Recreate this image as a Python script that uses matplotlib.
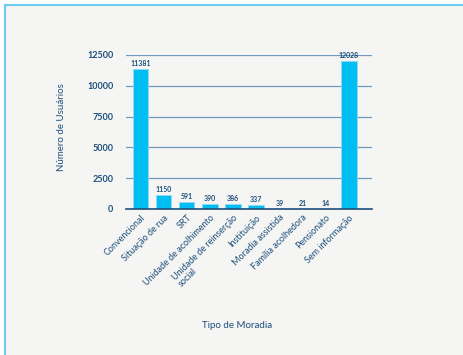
import matplotlib.pyplot as plt
from matplotlib.patches import Rectangle

categorias = ['Convencional', 'Situação de rua', 'SRT', 'Unidade de acolhimento',
              'Unidade de reinserção\nsocial', 'Instituição', 'Moradia assistida',
              'Família acolhedora', 'Pensionato', 'Sem informação']
usuarios = [11381, 1150, 591, 390, 386, 337, 39, 21, 14, 12028]
yticks = [0, 2500, 5000, 7500, 10000, 12500]

azul_escuro = '#1d4f7c'
ciano = '#00bdf2'
fundo = '#f5f5f3'

plt.rcParams['font.family'] = ['Lato', 'DejaVu Sans']

fig = plt.figure(figsize=(4.63, 3.55), dpi=100)
fig.patch.set_facecolor('white')

# moldura do painel
fig.patches.append(Rectangle((5 / 463, -0.1), 1.2, 1 - 5 / 355 + 0.1,
                             transform=fig.transFigure, facecolor=fundo,
                             edgecolor='#6ccdf0', linewidth=1.5, zorder=-10))

ax = fig.add_axes([126 / 463, 1 - 209 / 355, (372 - 126) / 463, (209 - 55) / 355])
ax.set_facecolor(fundo)
ax.patch.set_alpha(0)

x = range(len(categorias))
barras = ax.bar(x, usuarios, width=0.67, color=ciano, edgecolor='#8fdcf6',
                linewidth=0.6, zorder=3)
for xi, v in zip(x, usuarios):
    ax.text(xi, v + 150, str(v), ha='center', va='bottom', fontsize=5,
            fontweight='bold', color=azul_escuro, zorder=4)

ax.set_xlim(-0.62, 10.0)
ax.set_ylim(0, 12500)
ax.set_yticks(yticks)
ax.set_yticklabels([str(t) for t in yticks], fontsize=6.5, fontweight='bold',
                   color=azul_escuro)
ax.yaxis.grid(True, color='#6f99bd', linewidth=0.9, zorder=0)
ax.tick_params(axis='y', length=0, pad=9)
ax.tick_params(axis='x', length=0, pad=3)
ax.set_xticks(list(x))
ax.set_xticklabels(categorias, rotation=45, ha='right', rotation_mode='anchor',
                   multialignment='left', fontsize=6.5, color=azul_escuro,
                   linespacing=1.0)

for lado in ['top', 'right', 'left']:
    ax.spines[lado].set_visible(False)
ax.spines['bottom'].set_color(azul_escuro)
ax.spines['bottom'].set_linewidth(1.2)
ax.spines['bottom'].set_zorder(5)

fig.text(61 / 463, 1 - 127 / 355, 'Número de Usuários', rotation=90, ha='center',
         va='center', fontsize=7, color=azul_escuro)
fig.text(237 / 463, 1 - 325 / 355, 'Tipo de Moradia', ha='center', va='center',
         fontsize=7, color=azul_escuro)

fig.savefig('out.png', dpi=100)
